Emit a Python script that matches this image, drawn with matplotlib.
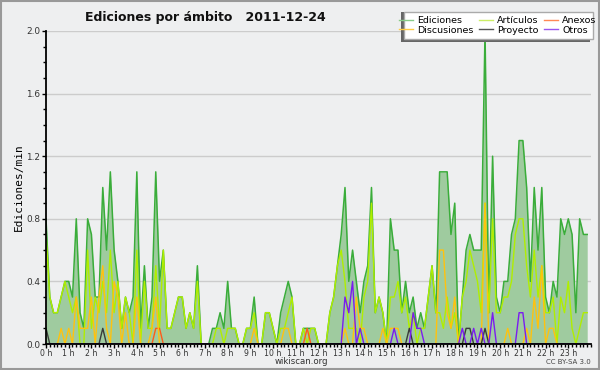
import numpy as np
import matplotlib.pyplot as plt
from matplotlib import font_manager
from matplotlib.patches import Rectangle
from matplotlib.lines import Line2D
from matplotlib.ticker import MultipleLocator, FixedLocator

# one value every 10 minutes (edits per minute), 2 hours per row
ediciones = [
    0.8, 0.3, 0.2, 0.2, 0.3, 0.4, 0.4, 0.3, 0.8, 0.2, 0.1, 0.8,
    0.7, 0.3, 0.3, 1.0, 0.6, 1.1, 0.6, 0.4, 0.1, 0.3, 0.2, 0.3,
    1.1, 0.1, 0.5, 0.1, 0.3, 1.1, 0.4, 0.6, 0.1, 0.1, 0.2, 0.3,
    0.3, 0.1, 0.2, 0.1, 0.5, 0.0, 0.0, 0.0, 0.1, 0.1, 0.2, 0.1,
    0.4, 0.1, 0.1, 0.0, 0.0, 0.1, 0.1, 0.3, 0.0, 0.0, 0.2, 0.2,
    0.1, 0.0, 0.2, 0.3, 0.4, 0.3, 0.0, 0.0, 0.1, 0.1, 0.1, 0.1,
    0.0, 0.0, 0.0, 0.2, 0.3, 0.5, 0.7, 1.0, 0.4, 0.6, 0.4, 0.2,
    0.4, 0.5, 1.0, 0.2, 0.3, 0.2, 0.0, 0.8, 0.6, 0.6, 0.2, 0.4,
    0.2, 0.3, 0.1, 0.2, 0.1, 0.3, 0.5, 0.2, 1.1, 1.1, 1.1, 0.7,
    0.9, 0.0, 0.3, 0.6, 0.7, 0.6, 0.6, 0.6, 2.0, 0.2, 1.2, 0.3,
    0.2, 0.4, 0.4, 0.7, 0.8, 1.3, 1.3, 1.0, 0.4, 1.0, 0.6, 1.0,
    0.3, 0.2, 0.4, 0.3, 0.8, 0.7, 0.8, 0.7, 0.2, 0.8, 0.7, 0.7,
]
articulos = [
    0.7, 0.3, 0.2, 0.2, 0.3, 0.4, 0.3, 0.2, 0.3, 0.0, 0.0, 0.6,
    0.1, 0.3, 0.2, 0.4, 0.2, 0.6, 0.2, 0.4, 0.1, 0.3, 0.2, 0.0,
    0.6, 0.0, 0.4, 0.1, 0.1, 0.5, 0.1, 0.6, 0.1, 0.1, 0.2, 0.3,
    0.3, 0.1, 0.2, 0.1, 0.4, 0.0, 0.0, 0.0, 0.0, 0.1, 0.1, 0.0,
    0.1, 0.1, 0.1, 0.0, 0.0, 0.1, 0.1, 0.2, 0.0, 0.0, 0.2, 0.2,
    0.1, 0.0, 0.1, 0.1, 0.2, 0.3, 0.0, 0.0, 0.1, 0.0, 0.1, 0.1,
    0.0, 0.0, 0.0, 0.2, 0.3, 0.5, 0.6, 0.4, 0.1, 0.1, 0.1, 0.0,
    0.3, 0.4, 0.9, 0.2, 0.3, 0.2, 0.0, 0.3, 0.3, 0.4, 0.2, 0.3,
    0.1, 0.2, 0.0, 0.1, 0.1, 0.3, 0.5, 0.2, 0.2, 0.1, 0.3, 0.1,
    0.2, 0.0, 0.3, 0.4, 0.6, 0.5, 0.4, 0.2, 0.9, 0.2, 0.8, 0.2,
    0.2, 0.3, 0.3, 0.4, 0.7, 0.8, 0.8, 0.5, 0.3, 0.6, 0.3, 0.5,
    0.2, 0.2, 0.3, 0.0, 0.3, 0.2, 0.4, 0.1, 0.0, 0.1, 0.2, 0.2,
]
discusiones = [
    0, 0, 0, 0, 0.1, 0, 0.1, 0, 0.3, 0.1, 0.1, 0.1,
    0.3, 0, 0.3, 0.5, 0.1, 0, 0.4, 0.3, 0, 0.2, 0, 0,
    0.3, 0, 0, 0, 0.1, 0.3, 0, 0, 0, 0, 0, 0,
    0, 0, 0, 0, 0, 0, 0, 0, 0, 0, 0, 0,
    0, 0, 0, 0, 0, 0, 0, 0.1, 0, 0, 0, 0,
    0, 0, 0, 0.1, 0.1, 0, 0, 0, 0, 0, 0, 0,
    0, 0, 0, 0, 0, 0, 0, 0.1, 0, 0, 0.3, 0.1,
    0.1, 0, 0, 0, 0, 0.1, 0, 0.1, 0.1, 0.1, 0, 0,
    0, 0, 0, 0, 0, 0, 0, 0, 0.6, 0.6, 0.2, 0.1,
    0.3, 0, 0, 0, 0, 0, 0, 0, 0.9, 0, 0, 0,
    0, 0, 0.1, 0, 0, 0, 0, 0.1, 0, 0.3, 0.1, 0.5,
    0, 0.1, 0.1, 0, 0, 0, 0, 0, 0, 0, 0, 0,
]
anexos = [0.0] * 144
anexos[29] = 0.1
anexos[30] = 0.1
anexos[69] = 0.1
proyecto = [0.0] * 144
for k in [0, 15, 96, 111, 112, 116]:
    proyecto[k] = 0.1
otros = [0.0] * 144
for k, v in [(79, 0.3), (80, 0.2), (81, 0.4), (83, 0.1), (92, 0.1), (97, 0.2),
             (98, 0.1), (99, 0.1), (110, 0.1), (113, 0.1), (115, 0.1),
             (118, 0.2), (125, 0.2), (126, 0.2)]:
    otros[k] = v

minutes = np.arange(len(ediciones)) * 10
hour_labels = [f'{h} h' for h in range(24)]

# narrow font if there is one, otherwise a smaller DejaVu
names = {f.name for f in font_manager.fontManager.ttflist}
if 'Liberation Sans Narrow' in names:
    small_font, small_size = 'Liberation Sans Narrow', 7
else:
    small_font, small_size = 'DejaVu Sans', 5.6

bg = '#eeeff0'
c_ed_fill = '#9fcb9f'
c_ed = '#3aad3a'
c_art = '#b0ee00'
c_disc = '#ffc20e'
c_anx = '#ff5a1a'
c_proy = '#3a3a3a'
c_otros = '#7a1cf0'

fig = plt.figure(figsize=(6, 3.7), dpi=100, facecolor=bg)
ax = fig.add_axes([46/600, 1-344/370, 545/600, 313/370])
ax.set_facecolor(bg)

ax.fill_between(minutes, ediciones, color=c_ed_fill, lw=0)
ax.plot(minutes, ediciones, color=c_ed, lw=1.1)
ax.plot(minutes, articulos, color=c_art, lw=1.0)
ax.plot(minutes, anexos, color=c_anx, lw=1.0)
ax.plot(minutes, discusiones, color=c_disc, lw=1.0)
ax.plot(minutes, proyecto, color=c_proy, lw=1.0)
ax.plot(minutes, otros, color=c_otros, lw=1.0)

ax.set_xlim(0, 1440)
ax.set_ylim(0, 2.0)
ax.yaxis.set_major_locator(MultipleLocator(0.4))
ax.yaxis.set_minor_locator(MultipleLocator(0.1))
ax.set_yticklabels([f'{v:.1f}' for v in ax.get_yticks()])
ax.xaxis.set_major_locator(FixedLocator([h * 60 for h in range(24)]))
ax.xaxis.set_minor_locator(MultipleLocator(10))
ax.set_xticklabels(hour_labels)
ax.tick_params(axis='both', which='major', length=3, width=1,
               labelsize=small_size, labelcolor='#333333', pad=1)
ax.tick_params(axis='both', which='minor', length=2.5, width=1)
ax.tick_params(axis='x', which='major', pad=0.5)
ax.tick_params(axis='y', which='major', labelsize=small_size + 0.8)
for lab in ax.get_xticklabels() + ax.get_yticklabels():
    lab.set_family(small_font)
ax.grid(axis='y', color='#cccccc', lw=1)
ax.set_axisbelow(True)
for s in ['top', 'right']:
    ax.spines[s].set_visible(False)
ax.spines['left'].set_linewidth(1.3)
ax.spines['bottom'].set_linewidth(1.3)

ax.set_ylabel('Ediciones/min', fontsize=8, family='DejaVu Sans Mono', labelpad=2)

fig.text(85/600, 1-17/370, 'Ediciones por ámbito   2011-12-24', fontsize=9,
         fontweight='bold', ha='left', va='center', color='#111111')
fig.text(301/600, 1-361/370, 'wikiscan.org', fontsize=small_size + 0.6,
         ha='center', va='center', color='#333333', family=small_font)
fig.text(591/600, 1-362/370, 'CC BY-SA 3.0', fontsize=small_size - 0.6,
         ha='right', va='center', color='#444444', family=small_font)

# legend box with shadow
fig.patches.append(Rectangle((401/600, 1-42/370), 189/600, 30/370,
                             transform=fig.transFigure, facecolor='#666666',
                             edgecolor='none', zorder=5))
fig.patches.append(Rectangle((404/600, 1-39/370), 189/600, 27/370,
                             transform=fig.transFigure, facecolor='white',
                             edgecolor='#aaaaaa', lw=1, zorder=6))
handles = [
    Line2D([], [], color='#88cc88', lw=1),
    Line2D([], [], color='#ffcc44', lw=1),
    Line2D([], [], color='#ccee66', lw=1),
    Line2D([], [], color='#555555', lw=1),
    Line2D([], [], color='#ff8855', lw=1),
    Line2D([], [], color='#9955ee', lw=1),
]
labels = ['Ediciones', 'Discusiones', 'Artículos', 'Proyecto', 'Anexos', 'Otros']
leg = fig.legend(handles, labels, ncol=3, loc='center',
                 bbox_to_anchor=(498/600, 1-25.5/370), frameon=False,
                 fontsize=6.8, handlelength=1.4, handletextpad=0.5,
                 columnspacing=0.6, labelspacing=0.05, borderpad=0)
leg.set_zorder(7)

fig.patches.append(Rectangle((0.0015, 0.0025), 0.997, 0.995,
                             transform=fig.transFigure, facecolor='none',
                             edgecolor='#999999', lw=1.5, zorder=10))

fig.savefig('out.png', dpi=100, facecolor=bg)
